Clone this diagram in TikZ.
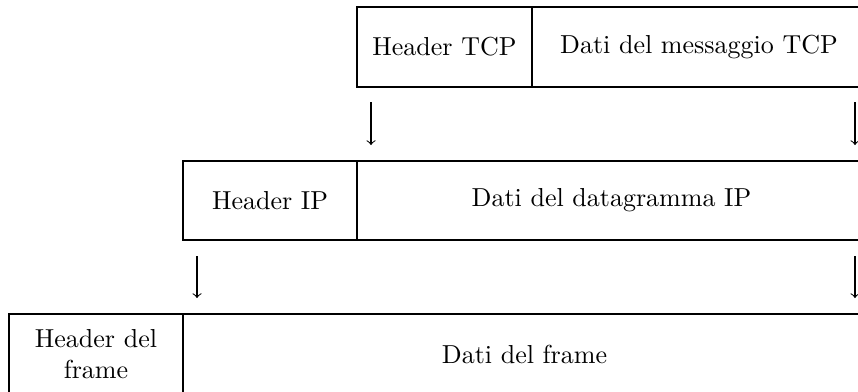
\documentclass[tikz,border=0pt]{standalone}
\usetikzlibrary{fit}
\begin{document}
\begin{tikzpicture}[x=0.3846pt,y=-0.3846pt,
  cell/.style={draw,inner sep=0pt},
  label/.style={inner sep=0pt,align=center},
  down/.style={->}]
% canvas; the rightmost and lowest edges run off the page
\useasboundingbox (0,0) rectangle (858,391);
\clip (0,0) rectangle (858,391);
% TCP segment
\node[cell,fit={(357,7) (532,87)}] (tcph) {};
\node[cell,fit={(532,7) (866,87)}] (tcpd) {};
\node[label] (tcpht) at (tcph.center) {Header TCP};
\node[label] (tcpdt) at (tcpd.center) {Dati del messaggio TCP};
% IP datagram
\node[cell,fit={(183,161) (357,240)}] (iph) {};
\node[cell,fit={(357,161) (866,240)}] (ipd) {};
\node[label] (ipht) at (iph.center) {Header IP};
\node[label] (ipdt) at (ipd.center) {Dati del datagramma IP};
% frame
\node[cell,fit={(9,314) (183,394)}] (frh) {};
\node[cell,fit={(183,314) (866,394)}] (frd) {};
\node[label] (frht) at (frh.center) {Header del\\frame};
\node[label] (frdt) at (frd.center) {Dati del frame};
% encapsulation arrows
\coordinate (a1s) at (371,102); \coordinate (a1e) at (371,145);
\coordinate (a2s) at (855,102); \coordinate (a2e) at (855,145);
\coordinate (b1s) at (197,256); \coordinate (b1e) at (197,298);
\coordinate (b2s) at (855,256); \coordinate (b2e) at (855,298);
\draw[down] (a1s) -- (a1e);
\draw[down] (a2s) -- (a2e);
\draw[down] (b1s) -- (b1e);
\draw[down] (b2s) -- (b2e);
\end{tikzpicture}
\end{document}
